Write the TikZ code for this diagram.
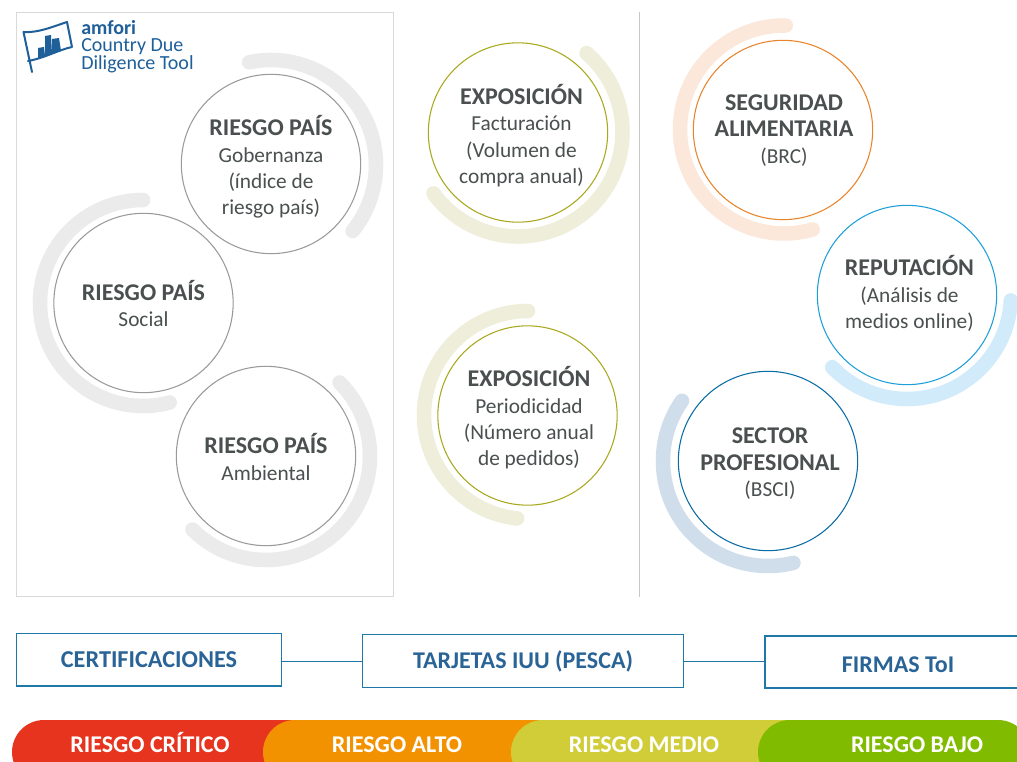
\documentclass[tikz,border=0pt]{standalone}
\usepackage{fontspec}
\setmainfont{Carlito}
\definecolor{ngray}{HTML}{9A9A9A}
\definecolor{rgray}{HTML}{EBEBEB}
\definecolor{nolive}{HTML}{A9A81E}
\definecolor{rolive}{HTML}{EEEEDA}
\definecolor{norange}{HTML}{E8842A}
\definecolor{rorange}{HTML}{FBE8DA}
\definecolor{nsky}{HTML}{1E9FD8}
\definecolor{rsky}{HTML}{D2EBFA}
\definecolor{nblue}{HTML}{0A6CA5}
\definecolor{rblue}{HTML}{D0DEEC}
\definecolor{boxblue}{HTML}{1F78A8}
\definecolor{txtblue}{HTML}{2A6496}
\definecolor{logoblue}{HTML}{1F5F9A}
\definecolor{txtgray}{HTML}{4A4F4F}
\definecolor{bred}{RGB}{231,52,31}
\definecolor{borange}{RGB}{243,146,0}
\definecolor{byellow}{RGB}{209,205,57}
\definecolor{bgreen}{RGB}{129,187,0}
\tikzset{
 x=0.75pt,y=-0.75pt,
 riskcircle/.style={circle,draw=#1,line width=0.8pt,fill=white,minimum size=134.5pt,inner sep=0pt},
 circletext/.style={inner sep=0pt,align=center,text=txtgray,font=\fontsize{16}{19.8}\selectfont},
 ring/.style={draw=#1,line width=10.9pt,line cap=round},
 linkbox/.style={draw=boxblue,line width=1pt,fill=white,text=txtblue,font=\bfseries\fontsize{18.2}{22}\selectfont,inner sep=0pt},
 linkline/.style={draw=boxblue,line width=1pt},
 bandtext/.style={anchor=base,text=white,font=\bfseries\fontsize{18}{22}\selectfont,inner sep=0pt},
 bandfill/.style={fill=#1,rounded corners=24pt},
 frame/.style={draw=#1,line width=0.7pt},
}
\newcommand{\ttl}[1]{\textbf{\fontsize{18}{19.8}\selectfont #1}}
% center x, center y, radius, start, end (math angles), colour
\newcommand{\ringarc}[6]{\draw[ring=#6] ({#1+#3*cos(#4)},{#2-#3*sin(#4)}) arc[start angle=-#4,delta angle={-(#5-#4)},radius=#3];}
\begin{document}
\begin{tikzpicture}
\useasboundingbox (0,0) rectangle (1017,762);
\fill[white] (0,0) rectangle (1017,762);
\draw[frame=black!15] (16,12) rectangle (393,596);
\draw[frame=black!22] (639.5,12) -- (639.5,597);
% rings
\ringarc{271}{165}{105}{102}{-39}{rgray}
\ringarc{143}{303}{103}{90}{285}{rgray}
\ringarc{266}{456}{104}{45}{-135}{rgray}
\ringarc{518}{132}{104.5}{49}{-144}{rolive}
\ringarc{528}{415}{104}{90}{264}{rolive}
\ringarc{784}{129.5}{104}{89}{286}{rorange}
\ringarc{907}{295}{104}{-3}{-136}{rsky}
\ringarc{768}{461}{105}{145}{284}{rblue}
% circles
\node[riskcircle=ngray] (gob) at (271,164) {};
\node[riskcircle=ngray] (soc) at (143.5,303) {};
\node[riskcircle=ngray] (amb) at (266,456) {};
\node[riskcircle=nolive] (fac) at (518,132.5) {};
\node[riskcircle=nolive] (per) at (527.5,415.5) {};
\node[riskcircle=norange] (seg) at (783,130) {};
\node[riskcircle=nsky] (rep) at (907,295) {};
\node[riskcircle=nblue] (sec) at (768,461) {};
% circle texts
\node[circletext] (gobt) at (271,167) {\ttl{RIESGO PAÍS}\\Gobernanza\\(índice de\\riesgo país)};
\node[circletext] (soct) at (143.5,303.5) {\ttl{RIESGO PAÍS}\\Social};
\node[circletext] (ambt) at (266,457) {\ttl{RIESGO PAÍS}\\Ambiental};
\node[circletext] (fact) at (521.5,135.5) {\ttl{EXPOSICIÓN}\\Facturación\\(Volumen de\\compra anual)};
\node[circletext] (pert) at (529,418) {\ttl{EXPOSICIÓN}\\Periodicidad\\(Número anual\\de pedidos)};
\node[circletext] (segt) at (784,130.5) {\ttl{SEGURIDAD}\\\ttl{ALIMENTARIA}\\(BRC)};
\node[circletext] (rept) at (909.5,293.5) {\ttl{REPUTACIÓN}\\(Análisis de\\medios online)};
\node[circletext] (sect) at (770,464) {\ttl{SECTOR}\\\ttl{PROFESIONAL}\\(BSCI)};
% logo
\draw[logoblue,line width=1.5pt,line join=round,line cap=round] (32,72) -- (23.5,32) .. controls (38,33) and (52,27) .. (67,22) -- (72,47) .. controls (58,50) and (45,58) .. (28,61);
\fill[logoblue] (38,58) -- (38,48) -- (44,47) -- (45,56) -- cycle;
\fill[logoblue] (45,56) -- (45,36) -- (51,35) -- (52,54) -- cycle;
\fill[logoblue] (52,53) -- (52,39) -- (59,38) -- (61,51) -- cycle;
\node[anchor=west,text=logoblue,inner sep=0pt,align=left,font=\fontsize{15}{13.2}\selectfont] (logo) at (81,46.5) {\textbf{amfori}\\Country Due\\Diligence Tool};
% boxes
\node[linkbox,minimum width=199pt,minimum height=39.5pt] (cert) at (149,659.5) {\raisebox{-0.75pt}{CERTIFICACIONES}};
\node[linkbox,minimum width=240.5pt,minimum height=39.5pt] (tar) at (523,661) {\raisebox{-1.5pt}{\fontsize{18}{22}\selectfont TARJETAS IUU (PESCA)}};
\draw[boxblue,line width=1pt,fill=white] (1017,636) -- (765,636) -- (765,688) -- (1017,688);
\node[text=txtblue,font=\bfseries\fontsize{18}{22}\selectfont,inner sep=0pt] (firm) at (898,665) {FIRMAS ToI};
\coordinate (firmleft) at (765,661.5);
\draw[linkline] (cert.east |- 0,661.5) -- (tar.west |- 0,661.5);
\draw[linkline] (tar.east |- 0,661.5) -- (firmleft);
% bands
\begin{scope}
\clip (0,720) rectangle (1017,762);
\fill[bandfill=bred] (12,720) rectangle (320,784);
\fill[bandfill=borange] (263,720) rectangle (570,784);
\fill[bandfill=byellow] (511,720) rectangle (820,784);
\fill[bandfill=bgreen] (758,720) rectangle (1030,784);
\end{scope}
\node[bandtext] (crit) at (150,752) {RIESGO CRÍTICO};
\node[bandtext] (alto) at (397,752) {RIESGO ALTO};
\node[bandtext] (med) at (644,752) {RIESGO MEDIO};
\node[bandtext] (bajo) at (917,752) {RIESGO BAJO};
\end{tikzpicture}
\end{document}
